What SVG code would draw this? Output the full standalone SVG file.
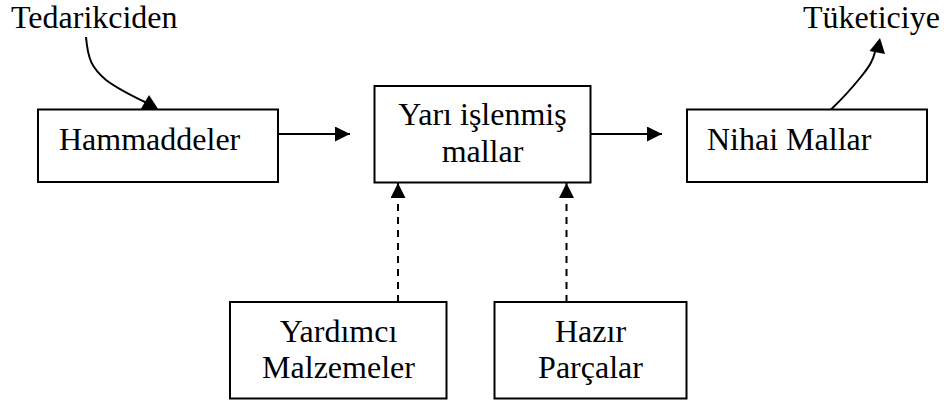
<svg xmlns="http://www.w3.org/2000/svg" width="944" height="401" viewBox="0 0 944 401">
<style>
.box{fill:#fff;stroke:#000;stroke-width:2}
.t{font-family:'Liberation Serif','Times New Roman','DejaVu Serif',serif;font-size:32px;fill:#000}
.c{text-anchor:middle}
.ln{fill:none;stroke:#000;stroke-width:2}
.dash{stroke-dasharray:7 6}
.head{fill:#000;stroke:none}
</style>
<defs>
<marker id="ah" viewBox="0 0 15 15" refX="15" refY="7.5" markerWidth="15" markerHeight="15" markerUnits="userSpaceOnUse" orient="auto">
<path d="M0,0 L15,7.5 L0,15 Z" fill="#000"/>
</marker>
</defs>
<g id="connectors">
<path class="ln" d="M86,37 C88,60 92,68 106,80 C118,89 130,95 147,103"/>
<polygon class="head" points="149,95 140.5,109.5 158.5,109.5"/>
<path class="ln" d="M831,109.5 C845,96 852,88 860,78 C870,66 873,60 875,52"/>
<polygon class="head" points="880,38 869.5,51 885,54"/>
<line class="ln" x1="278" y1="134" x2="350" y2="134" marker-end="url(#ah)"/>
<line class="ln" x1="591" y1="134" x2="662" y2="134" marker-end="url(#ah)"/>
<line class="ln dash" x1="398" y1="302" x2="398" y2="183" marker-end="url(#ah)"/>
<line class="ln dash" x1="566.5" y1="302" x2="566.5" y2="183" marker-end="url(#ah)"/>
</g>
<text class="t" x="11" y="27.5">Tedarikciden</text>
<text class="t" x="803" y="28">Tüketiciye</text>
<g id="hammaddeler">
<rect class="box" x="38" y="109.5" width="240" height="72.5"/>
<text class="t" x="59" y="150">Hammaddeler</text>
</g>
<g id="yari-islenmis">
<rect class="box" x="374.5" y="86" width="216" height="96.5"/>
<text class="t c" x="482.5" y="125">Yarı işlenmiş</text>
<text class="t c" x="482.5" y="161.5">mallar</text>
</g>
<g id="nihai">
<rect class="box" x="687" y="109.5" width="240" height="72.5"/>
<text class="t" x="707" y="150">Nihai Mallar</text>
</g>
<g id="yardimci">
<rect class="box" x="230" y="302" width="216.5" height="96.5"/>
<text class="t c" x="338.5" y="341.5">Yardımcı</text>
<text class="t c" x="338.5" y="378">Malzemeler</text>
</g>
<g id="hazir">
<rect class="box" x="494.5" y="302" width="192" height="96.5"/>
<text class="t c" x="590.5" y="341.5">Hazır</text>
<text class="t c" x="590.5" y="378">Parçalar</text>
</g>
</svg>
